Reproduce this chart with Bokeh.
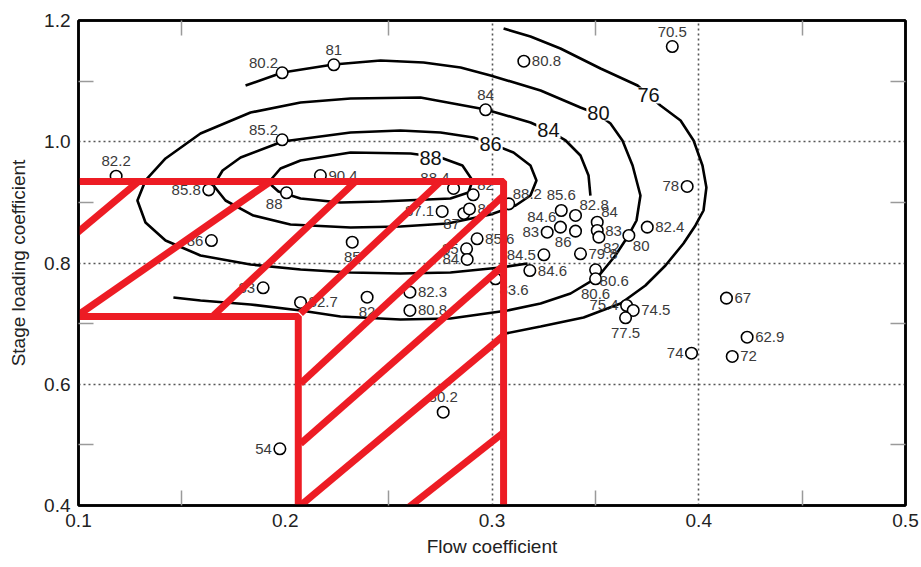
from bokeh.plotting import figure
from bokeh.models import Range1d, FixedTicker, LinearAxis, PrintfTickFormatter, ColumnDataSource
from bokeh.embed import file_html
from bokeh.resources import INLINE
from bokeh.core.properties import value

# ---------------- data ----------------
flow = [0.1985, 0.2235, 0.3154, 0.3872, 0.2969, 0.1985, 0.1182, 0.2170, 0.1630, 0.2006,
        0.3944, 0.1643, 0.2324, 0.1893, 0.2074, 0.2396, 0.2603, 0.2603, 0.1974, 0.2764,
        0.2814, 0.2909, 0.2759, 0.2864, 0.2891, 0.3081, 0.2928, 0.2877, 0.2880, 0.3335,
        0.3404, 0.3331, 0.3267, 0.3404, 0.3251, 0.3183, 0.3017, 0.3509, 0.3509, 0.3517,
        0.3428, 0.3501, 0.3501, 0.3751, 0.3662, 0.3651, 0.3683, 0.3646, 0.4134, 0.4234,
        0.3965, 0.4162]
loading = [1.1137, 1.1269, 1.1329, 1.1571, 1.0527, 1.0032, 0.9432, 0.9443, 0.9207, 0.9158,
           0.9262, 0.8371, 0.8343, 0.7591, 0.7349, 0.7436, 0.7518, 0.7217, 0.4935, 0.5539,
           0.9229, 0.9125, 0.8850, 0.8817, 0.8891, 0.8976, 0.8399, 0.8234, 0.8058, 0.8866,
           0.8784, 0.8591, 0.8508, 0.8525, 0.8135, 0.7876, 0.7739, 0.8673, 0.8536, 0.8426,
           0.8152, 0.7888, 0.7739, 0.8591, 0.8454, 0.7299, 0.7217, 0.7096, 0.7420, 0.6776,
           0.6512, 0.6458]
efficiency = ["80.2", "81", "80.8", "70.5", "84", "85.2", "82.2", "90.4", "85.8", "88",
              "78", "86", "85", "83", "82.7", "82", "82.3", "80.8", "54", "80.2",
              "88.4", "82", "87.1", "87", "81", "88.2", "85.6", "85", "84", "85.6",
              "82.8", "84.6", "83", "86", "84.5", "84.6", "83.6", "84", "83", "82",
              "79.8", "80.6", "80.6", "82.4", "80", "75.4", "74.5", "77.5", "67", "62.9",
              "74", "72"]
label_side = ["AL", "A", "R", "A", "A", "AL", "A", "R", "L", "BL",
              "L", "L", "B", "L", "R", "B", "R", "R", "L", "A",
              "AL", "AR", "L", "BL", "R", "AR", "R", "L", "L", "A",
              "AR", "AL", "L", "BL", "L", "R", "BR", "AR", "R", "BR",
              "R", "BR", "B", "R", "BR", "L", "R", "B", "R", "R",
              "L", "R"]

# efficiency contours (flow, loading)
c88_x = [0.1919, 0.1977, 0.2074, 0.2316, 0.2606, 0.2751, 0.2857, 0.2906, 0.2886, 0.2799,
         0.2688, 0.2461, 0.2267, 0.2074, 0.1967, 0.1919]
c88_y = [0.9328, 0.9559, 0.9691, 0.9823, 0.9806, 0.9740, 0.9608, 0.9361, 0.9163, 0.9064,
         0.9047, 0.9014, 0.8998, 0.9064, 0.9179, 0.9328]
c86_x = [0.1653, 0.1697, 0.1784, 0.1987, 0.2316, 0.2557, 0.2751, 0.2911, 0.2993, 0.3104,
         0.3186, 0.3215, 0.3186, 0.3114, 0.2993, 0.2785, 0.2557, 0.2316, 0.2025, 0.1846,
         0.1711, 0.1653]
c86_y = [0.9278, 0.9526, 0.9740, 1.0004, 1.0153, 1.0186, 1.0153, 1.0070, 0.9971, 0.9823,
         0.9608, 0.9361, 0.9113, 0.8948, 0.8800, 0.8651, 0.8602, 0.8585, 0.8635, 0.8783,
         0.9031, 0.9278]
c84_x = [0.3172, 0.3041, 0.2799, 0.2557, 0.2316, 0.2074, 0.1832, 0.1590, 0.1421, 0.1324,
         0.1285, 0.1324, 0.1421, 0.1590, 0.1832, 0.2074, 0.2316, 0.2654, 0.2969, 0.3186,
         0.3273, 0.3356, 0.3428, 0.3467, 0.3476]
c84_y = [0.7992, 0.7926, 0.7843, 0.7827, 0.7843, 0.7893, 0.7975, 0.8124, 0.8371, 0.8668,
         0.9031, 0.9361, 0.9724, 1.0136, 1.0482, 1.0647, 1.0713, 1.0730, 1.0532, 1.0318,
         1.0186, 1.0021, 0.9773, 0.9443, 0.9113]
c80_x = [0.1808, 0.1987, 0.2233, 0.2461, 0.2669, 0.2848, 0.2993, 0.3235, 0.3428, 0.3515,
         0.3573, 0.3631, 0.3680, 0.3718, 0.3699, 0.3660, 0.3597, 0.3510, 0.3380, 0.3235,
         0.3075, 0.2799, 0.2557, 0.2267, 0.2074, 0.1832, 0.1590, 0.1459]
c80_y = [1.0928, 1.1142, 1.1274, 1.1340, 1.1307, 1.1225, 1.1093, 1.0845, 1.0565, 1.0449,
         1.0301, 1.0021, 0.9608, 0.9113, 0.8701, 0.8454, 0.8124, 0.7761, 0.7497, 0.7332,
         0.7216, 0.7085, 0.7068, 0.7118, 0.7216, 0.7316, 0.7381, 0.7431]
c76_x = [0.3056, 0.3186, 0.3331, 0.3525, 0.3704, 0.3815, 0.3912, 0.3975, 0.4018, 0.4037,
         0.4023, 0.3984, 0.3926, 0.3839, 0.3742, 0.3622, 0.3443, 0.3235, 0.3041]
c76_y = [1.1868, 1.1736, 1.1538, 1.1208, 1.0928, 1.0598, 1.0351, 1.0021, 0.9608, 0.9245,
         0.8866, 0.8619, 0.8322, 0.7959, 0.7629, 0.7332, 0.7101, 0.6953, 0.6821]

contour_level_labels = ["88", "86", "84", "80", "76"]
contour_label_x = [0.2703, 0.2993, 0.3273, 0.3515, 0.3757]
contour_label_y = [0.9740, 0.9971, 1.0186, 1.0482, 1.0763]

# red hatched design region
region_x = [0.1, 0.3056, 0.3056]
region_y = [0.9344, 0.9344, 0.4]
region2_x = [0.1, 0.2063, 0.2063]
region2_y = [0.7117, 0.7117, 0.4]
hatch_x0 = [0.0995, 0.0995, 0.1653, 0.2074, 0.2074, 0.2074, 0.2074, 0.2596]
hatch_y0 = [0.8503, 0.7134, 0.7134, 0.7167, 0.6012, 0.5022, 0.4000, 0.3967]
hatch_x1 = [0.1290, 0.1929, 0.2340, 0.2751, 0.3056, 0.3056, 0.3056, 0.3056]
hatch_y1 = [0.9344, 0.9344, 0.9344, 0.9344, 0.9113, 0.7959, 0.6804, 0.5204]

x_ticks = [0.1, 0.2, 0.3, 0.4, 0.5]
x_minor = [0.15, 0.25, 0.35, 0.45]
y_ticks = [0.4, 0.6, 0.8, 1.0, 1.2]
y_minor = [0.5, 0.7, 0.9, 1.1]

# ---------------- figure ----------------
FONT = "Liberation Sans"
p = figure(width=921, height=567, x_range=Range1d(0.1, 0.5), y_range=Range1d(0.4, 1.2),
           output_backend="svg", toolbar_location=None,
           min_border_left=78, min_border_right=16, min_border_top=20, min_border_bottom=62)
p.background_fill_color = "white"
p.border_fill_color = "white"
p.outline_line_color = "black"
p.outline_line_width = 2.5

for ax, tk, mn in ((p.xaxis[0], x_ticks, x_minor), (p.yaxis[0], y_ticks, y_minor)):
    ax.ticker = FixedTicker(ticks=tk, minor_ticks=mn)
    ax.formatter = PrintfTickFormatter(format="%.1f")
    ax.major_tick_in = 0
    ax.major_tick_out = 0
    ax.minor_tick_in = 15
    ax.minor_tick_out = 0
    ax.minor_tick_line_color = "#9a9a9a"
    ax.minor_tick_line_width = 1.5
    ax.axis_line_width = 2.5
    ax.axis_line_color = "black"
    ax.major_label_text_font = FONT
    ax.major_label_text_font_size = "19px"
    ax.major_label_text_color = "#222222"
    ax.axis_label_text_font = FONT
    ax.axis_label_text_font_size = "19px"
    ax.axis_label_text_font_style = "normal"
    ax.axis_label_text_color = "#222222"
p.xaxis.axis_label = "Flow coefficient"
p.yaxis.axis_label = "Stage loading coefficient"
p.xaxis.major_label_standoff = 8
p.yaxis.major_label_standoff = 8
p.xaxis.axis_label_standoff = 6
p.yaxis.axis_label_standoff = 12

# top and right frame edges carry only the short inner ticks
for loc, mn in (("above", x_minor), ("right", y_minor)):
    ax = LinearAxis(ticker=FixedTicker(ticks=[], minor_ticks=mn),
                    major_tick_in=0, major_tick_out=0,
                    minor_tick_in=15, minor_tick_out=0, minor_tick_line_color="#9a9a9a",
                    minor_tick_line_width=1.5, axis_line_width=2.5, axis_line_color="black",
                    major_label_standoff=0)
    p.add_layout(ax, loc)

p.xgrid.ticker = FixedTicker(ticks=[0.3, 0.4])
p.ygrid.ticker = FixedTicker(ticks=[0.6, 0.8, 1.0])
p.grid.grid_line_color = "#555555"
p.grid.grid_line_width = 1.6
p.grid.grid_line_dash = "2 3"

# contours
for cx, cy in ((c88_x, c88_y), (c86_x, c86_y), (c84_x, c84_y), (c80_x, c80_y), (c76_x, c76_y)):
    p.line(cx, cy, line_color="black", line_width=2.6)

# data points
side_map = {"R": (8, 0, "left"), "L": (-8, 0, "right"), "A": (0, -15, "center"),
            "B": (0, 15, "center"), "AL": (-4, -10, "right"), "AR": (4, -10, "left"),
            "BL": (-4, 11, "right"), "BR": (4, 11, "left")}
src = ColumnDataSource(dict(x=flow, y=loading, t=efficiency,
                            dx=[side_map[s][0] for s in label_side],
                            dy=[side_map[s][1] for s in label_side],
                            al=[side_map[s][2] for s in label_side]))
p.scatter("x", "y", source=src, size=11.5, marker="circle", fill_color="white",
          line_color="black", line_width=1.6)
p.text("x", "y", text="t", source=src, x_offset="dx", y_offset="dy", text_align="al",
       text_baseline="middle", text_font=value(FONT), text_font_size="15px",
       text_color="#3a3a3a")

# contour labels
p.text(contour_label_x, contour_label_y, text=contour_level_labels, text_align="center",
       text_baseline="middle", text_font=value(FONT), text_font_size="20px",
       text_color="#111111", background_fill_color="white", padding=1)

# red region
RED = "#ED1C24"
p.line(region_x, region_y, line_color=RED, line_width=7)
p.line(region2_x, region2_y, line_color=RED, line_width=7)
p.segment(hatch_x0, hatch_y0, hatch_x1, hatch_y1, line_color=RED, line_width=7)

open("out.html", "w").write(file_html(p, INLINE))
